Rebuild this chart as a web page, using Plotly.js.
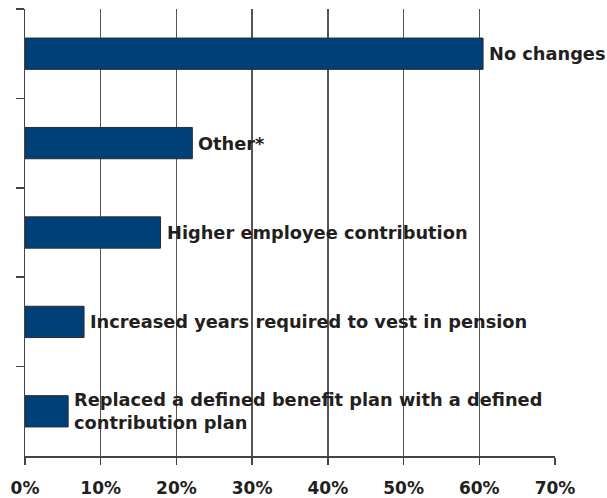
<!DOCTYPE html>
<html>
<head>
<meta charset="utf-8">
<script src="https://cdn.plot.ly/plotly-3.0.1.min.js"></script>
<style>html,body{margin:0;padding:0;background:#fff;}#chart{width:607px;height:498px;}</style>
</head>
<body>
<div id="chart"></div>
<script>
var categories = ["No changes", "Other*", "Higher employee contribution", "Increased years required to vest in pension", "Replaced a defined benefit plan with a defined<br>contribution plan"];
var values = [60.5, 22.1, 17.9, 7.8, 5.7];
var xTickVals = [0, 10, 20, 30, 40, 50, 60, 70];
var xTickText = ["0%", "10%", "20%", "30%", "40%", "50%", "60%", "70%"];

var labelFont = {family: "DejaVu Sans, sans-serif", size: 17.8, color: "#231f20", weight: "bold"};

var annotations = categories.map(function (c, i) {
  return {
    x: values[i], y: c, xref: "x", yref: "y",
    text: "<b>" + c + "</b>", showarrow: false,
    xanchor: "left", yanchor: "middle", align: "left", xshift: 4,
    font: labelFont
  };
});

var trace = {
  type: "bar", orientation: "h",
  x: values, y: categories,
  marker: {color: "#004079", line: {color: "#2b2b2b", width: 1}},
  width: 0.35,
  hoverinfo: "none"
};

var layout = {
  width: 607, height: 498,
  margin: {l: 25, r: 52, t: 9, b: 42},
  paper_bgcolor: "#fff", plot_bgcolor: "#fff",
  showlegend: false,
  xaxis: {
    range: [0, 70], tickvals: xTickVals, ticktext: xTickText,
    showgrid: true, gridcolor: "#555", gridwidth: 1.3,
    zeroline: false, showline: true, linecolor: "#444", linewidth: 1.5,
    ticks: "outside", ticklen: 7, tickcolor: "#444", tickwidth: 1.5,
    ticklabelstandoff: 9,
    tickfont: {family: "DejaVu Sans, sans-serif", size: 17, color: "#231f20", weight: "bold"}
  },
  yaxis: {
    type: "category", autorange: false, range: [4.5, -0.5],
    tickson: "boundaries", ticks: "outside", ticklen: 8, tickcolor: "#444", tickwidth: 1.5,
    showticklabels: false, showgrid: false, zeroline: false,
    showline: true, linecolor: "#444", linewidth: 1.5
  },
  annotations: annotations
};

Plotly.newPlot("chart", [trace], layout, {staticPlot: true, displayModeBar: false});
</script>
</body>
</html>
